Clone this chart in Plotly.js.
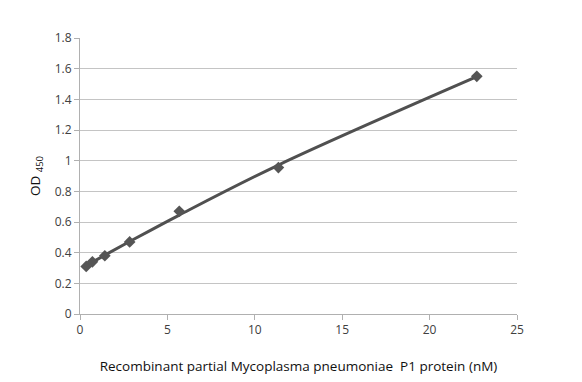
<!DOCTYPE html>
<html><head><meta charset="utf-8">
<script src="https://cdn.plot.ly/plotly-3.0.1.min.js"></script>
<style>body{margin:0;background:#fff}#c{width:582px;height:382px}</style>
</head><body><div id="c"></div>
<script>
const concentration = [0.355, 0.71, 1.42, 2.84, 5.68, 11.35, 22.7];
const od450 = [0.31, 0.34, 0.38, 0.47, 0.67, 0.955, 1.55];
const xTicks = [0, 5, 10, 15, 20, 25];
const yTicks = [0, 0.2, 0.4, 0.6, 0.8, 1, 1.2, 1.4, 1.6, 1.8];
const yTickText = ['0', '0.2', '0.4', '0.6', '0.8', '1', '1.2', '1.4', '1.6', '1.8'];

// quadratic least-squares trendline, as in the original spreadsheet chart
function quadFit(xs, ys) {
  let S = [0,0,0,0,0], T = [0,0,0];
  for (let i = 0; i < xs.length; i++) {
    let p = 1;
    for (let k = 0; k < 5; k++) { S[k] += p; if (k < 3) T[k] += p * ys[i]; p *= xs[i]; }
  }
  const A = [[S[0],S[1],S[2],T[0]],[S[1],S[2],S[3],T[1]],[S[2],S[3],S[4],T[2]]];
  for (let i = 0; i < 3; i++) {
    for (let j = i + 1; j < 3; j++) {
      const f = A[j][i] / A[i][i];
      for (let k = i; k < 4; k++) A[j][k] -= f * A[i][k];
    }
  }
  const c = [0,0,0];
  for (let i = 2; i >= 0; i--) {
    let s = A[i][3];
    for (let k = i + 1; k < 3; k++) s -= A[i][k] * c[k];
    c[i] = s / A[i][i];
  }
  return c;
}
const coef = quadFit(concentration, od450);
const trend = concentration.map(x => coef[0] + coef[1] * x + coef[2] * x * x);

const grey = '#555555';
const data = [
  { x: concentration, y: trend, mode: 'lines', line: { color: '#505050', width: 3, shape: 'spline' }, hoverinfo: 'skip', showlegend: false },
  { x: concentration, y: od450, mode: 'markers', marker: { symbol: 'diamond', size: 9, color: grey }, showlegend: false }
];
const layout = {
  width: 582, height: 382,
  margin: { l: 80, r: 65, t: 38, b: 68 },
  paper_bgcolor: '#fff', plot_bgcolor: '#fff',
  font: { family: 'Open Sans, Liberation Sans, sans-serif', color: '#404040', size: 12 },
  xaxis: {
    range: [0, 25], tickvals: xTicks, ticktext: xTicks.map(String),
    showgrid: false, zeroline: false, showline: true, linecolor: '#b0b0b0', linewidth: 1,
    ticks: 'outside', ticklen: 5, tickcolor: '#b0b0b0', tickfont: { size: 12, color: '#404040' },
    title: { text: 'Recombinant partial Mycoplasma pneumoniae  P1 protein (nM)', font: { size: 13.5, color: '#111' }, standoff: 24 }
  },
  yaxis: {
    range: [0, 1.8], tickvals: yTicks, ticktext: yTickText,
    showgrid: true, gridcolor: '#c4c4c4', gridwidth: 1, zeroline: false,
    showline: true, linecolor: '#b0b0b0', linewidth: 1,
    ticks: 'outside', ticklen: 5, tickcolor: '#b0b0b0', tickfont: { size: 12, color: '#404040' },
    title: { text: 'OD <sub>450</sub>', font: { size: 13.5, color: '#111' }, standoff: 10 }
  }
};
Plotly.newPlot('c', data, layout, { staticPlot: true, displayModeBar: false });
</script>
</body></html>
